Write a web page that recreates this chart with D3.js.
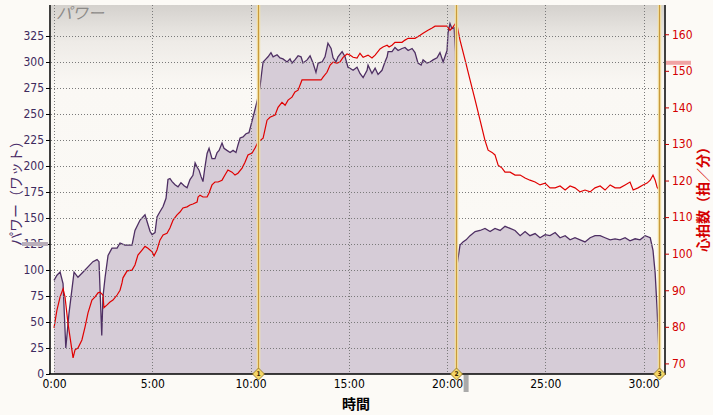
<!DOCTYPE html>
<html><head><meta charset="utf-8">
<script src="https://cdn.jsdelivr.net/npm/d3@7"></script>
<style>
html,body{margin:0;padding:0;background:#fcfaf6;}
svg{display:block;}
text{font-family:"Liberation Sans Narrow","Arial Narrow","DejaVu Sans Condensed",sans-serif;}
</style></head>
<body>
<svg id="chart" width="713" height="415"></svg>
<script>
// ---- data (time in minutes) ----
const powerTime = [0,0.15,0.31,0.46,0.60,0.76,1.02,1.22,1.48,1.73,1.98,2.19,2.29,2.43,2.49,2.60,2.75,2.95,3.21,3.36,3.61,3.97,4.12,4.38,4.63,4.89,4.99,5.14,5.24,5.39,5.55,5.70,5.80,5.90,6.01,6.16,6.31,6.46,6.62,6.77,6.92,7.07,7.18,7.28,7.38,7.48,7.58,7.68,7.79,7.89,8.04,8.19,8.30,8.40,8.55,8.65,8.80,8.96,9.11,9.26,9.36,9.47,9.62,9.77,9.92,10.13,10.33,10.48,10.59,10.64,10.79,10.89,11.04,11.15,11.35,11.50,11.65,11.86,12.01,12.11,12.26,12.42,12.57,12.67,12.88,13.03,13.18,13.33,13.44,13.64,13.79,13.94,14.10,14.20,14.35,14.45,14.66,14.81,14.96,15.06,15.22,15.42,15.57,15.73,15.93,15.98,16.18,16.34,16.49,16.69,16.84,16.95,17.00,17.20,17.35,17.51,17.71,17.86,18.02,18.22,18.37,18.52,18.68,18.78,18.98,19.13,19.29,19.49,19.64,19.80,20.00,20.05,20.15,20.25,20.36,20.43,20.51,20.66,20.81,20.97,21.17,21.43,21.68,21.93,22.19,22.44,22.70,22.95,23.21,23.46,23.72,23.97,24.22,24.48,24.73,24.99,25.24,25.50,25.75,26.01,26.26,26.51,26.77,27.02,27.28,27.53,27.79,28.04,28.30,28.55,28.80,29.06,29.31,29.57,29.82,30.08,30.34,30.48,30.59,30.69,30.79];
const powerWatts = [90,95,98,87,25,58,98,93,98,103,108,110,108,37,74,93,114,121,121,126,124,124,138,148,153,137,134,136,151,156,161,169,187,188,185,182,180,184,181,179,187,191,203,199,196,190,185,199,212,217,207,207,213,215,222,217,215,213,215,213,220,227,228,231,232,247,262,276,293,300,303,305,309,305,307,304,303,300,303,299,302,306,305,299,302,306,299,290,299,300,305,318,313,304,300,305,310,305,295,294,292,295,289,285,292,297,289,294,288,292,300,305,310,310,314,311,313,314,311,313,309,299,297,302,299,300,302,304,309,300,311,328,337,332,333,310,105,124,127,129,133,137,138,140,137,140,138,142,140,138,133,137,133,135,131,134,133,136,131,133,129,131,129,127,131,133,133,131,129,130,129,131,128,130,129,133,131,119,97,62,16];

const hrTime = [0,0.15,0.31,0.46,0.56,0.71,0.97,1.07,1.22,1.42,1.58,1.73,1.93,2.09,2.24,2.34,2.49,2.54,2.70,2.85,3.00,3.21,3.36,3.46,3.51,3.72,3.97,4.12,4.27,4.48,4.63,4.78,4.99,5.09,5.24,5.39,5.55,5.75,5.90,6.06,6.26,6.41,6.56,6.77,6.92,7.07,7.28,7.33,7.43,7.58,7.79,7.89,8.04,8.19,8.35,8.55,8.70,8.85,9.06,9.21,9.36,9.57,9.72,9.87,10.08,10.23,10.38,10.64,10.84,10.99,11.25,11.40,11.60,11.76,11.91,12.11,12.26,12.42,12.62,13.59,13.69,13.89,14.05,14.20,14.40,14.55,14.71,14.91,15.06,15.22,15.42,15.57,15.73,15.98,16.18,16.34,16.59,16.74,16.95,17.05,17.20,17.35,17.71,17.86,18.02,18.37,18.63,18.78,19.03,19.24,19.39,20.00,20.15,20.31,20.41,20.51,20.66,20.92,21.17,21.43,21.68,21.93,22.09,22.29,22.44,22.60,22.80,22.95,23.21,23.46,23.72,23.97,24.22,24.48,24.73,24.99,25.24,25.50,25.75,26.01,26.26,26.51,26.77,27.02,27.28,27.53,27.79,28.04,28.30,28.55,28.80,29.06,29.31,29.47,29.72,29.97,30.18,30.34,30.48,30.59,30.69,30.79];
const hrBpm = [79.7,84.6,88.2,90.4,88.2,81,71.5,73.7,74.2,76.4,80,83.8,87.3,88.2,89.3,89.5,88.7,85.2,86,86.8,87.3,88.7,90,92,93.4,95.3,95.5,96.9,99.6,101,102,101.5,100.5,99.4,101,103.7,105.1,105.6,107,109.2,110.6,111.4,112.5,112.8,113.3,113.6,114.1,115.5,116,115.5,115.5,116.6,118.8,119.6,119.6,120.1,121.5,122.9,122.3,121.5,122,123.4,125,127,127.5,128.9,130.5,131.6,136.5,137.3,137.9,140,141.4,140.6,142,142.8,144.2,144.7,147.5,147.5,148.3,149.6,151.6,152.4,152.1,152.4,153.7,154.6,154.3,153.7,153.5,154.8,153.7,154.3,153.5,154.3,156,156.5,157,156.5,157,157.8,157.8,158.4,158.9,158.9,159.7,160.3,161.1,161.7,162.2,162.2,161.1,162,162.8,162.5,158.4,152.9,147.5,142,136.5,131,128.3,127.7,127,124.2,123.4,122.3,122.3,121.5,121.5,120.7,120.1,119.6,118.8,119.3,118,118,118.5,117.4,118.5,118,116.9,117.4,116.9,118,118.5,117.4,118.8,118,118,118.8,119.6,117.4,118,118.8,119.3,120.1,121.5,120.1,118.2,117.4];

const timeTickValues = [0,5,10,15,20,25,30];
const timeTickLabels = ["0:00","5:00","10:00","15:00","20:00","25:00","30:00"];
const powerTicks = [0,25,50,75,100,125,150,175,200,225,250,275,300,325];
const hrTicks = [70,80,90,100,110,120,130,140,150,160];
const lapTimes = [10.40,20.44,30.80];
const lapLabels = ["1","2","3"];
const avgPower = 125;
const avgHr = 152.2;
const cursorTime = 20.97;

const titlePlot = "パワー";
const titleLeft = "パワー（ワット）";
const titleRight = "心拍数（拍／分）";
const titleX = "時間";

// ---- layout ----
const L = 51, R = 664, T = 5, B = 374;
const svg = d3.select("#chart");

const x = d3.scaleLinear().domain([-0.153, 31.04]).range([L, R]);
const yP = d3.scaleLinear().domain([0, 354.8]).range([B, T]);
const yH = d3.scaleLinear().domain([67.1, 168]).range([B, T]);

const defs = svg.append("defs");
const grad = defs.append("linearGradient").attr("id","bg").attr("x1",0).attr("y1",0).attr("x2",0).attr("y2",1);
grad.append("stop").attr("offset","0%").attr("stop-color","#d4d1cd");
grad.append("stop").attr("offset","10%").attr("stop-color","#eeebe7");
grad.append("stop").attr("offset","22%").attr("stop-color","#faf8f4");
grad.append("stop").attr("offset","100%").attr("stop-color","#fcfaf6");
defs.append("clipPath").attr("id","clip").append("rect").attr("x",L).attr("y",T).attr("width",R-L).attr("height",B-T);

svg.append("rect").attr("x",L).attr("y",T).attr("width",R-L).attr("height",B-T).attr("fill","url(#bg)");

const plot = svg.append("g").attr("clip-path","url(#clip)");

// power area
const pData = powerTime.map((t,i)=>[t,powerWatts[i]]);
plot.append("path").datum(pData)
  .attr("d", d3.area().x(d=>x(d[0])).y0(yP(0)).y1(d=>yP(d[1])))
  .attr("fill","#d6ccd7");

// grid
const grid = svg.append("g").attr("stroke","#7a7a7a").attr("stroke-dasharray","1,2").attr("stroke-width",1);
powerTicks.filter(v=>v>0).forEach(v=>{
  grid.append("line").attr("x1",L).attr("x2",R).attr("y1",Math.round(yP(v))+0.5).attr("y2",Math.round(yP(v))+0.5);
});
timeTickValues.forEach(v=>{
  grid.append("line").attr("y1",T).attr("y2",B).attr("x1",Math.round(x(v))+0.5).attr("x2",Math.round(x(v))+0.5);
});

// power line
plot.append("path").datum(pData)
  .attr("d", d3.line().x(d=>x(d[0])).y(d=>yP(d[1])))
  .attr("fill","none").attr("stroke","#4e2f63").attr("stroke-width",1.3);

// hr line
const hData = hrTime.map((t,i)=>[t,hrBpm[i]]);
plot.append("path").datum(hData)
  .attr("d", d3.line().x(d=>x(d[0])).y(d=>yH(d[1])))
  .attr("fill","none").attr("stroke","#e00000").attr("stroke-width",1.2);

// lap lines
lapTimes.forEach(t=>{
  const xx = Math.round(x(t))+0.5;
  svg.append("line").attr("x1",xx).attr("x2",xx).attr("y1",T).attr("y2",B).attr("stroke","#f3e2a8").attr("stroke-width",3.5);
  svg.append("line").attr("x1",xx).attr("x2",xx).attr("y1",T).attr("y2",B).attr("stroke","#c89a3c").attr("stroke-width",1.2);
});

// plot title
svg.append("text").attr("x",56).attr("y",19).text(titlePlot)
  .attr("fill","#8c8a88").attr("font-size",16).attr("font-style","italic")
  .style("font-family","'Noto Sans CJK JP',sans-serif");

// axes
const axL = d3.axisLeft(yP).tickValues(powerTicks).tickSize(4).tickPadding(2);
const gL = svg.append("g").attr("transform",`translate(${L-1},0)`).call(axL);
gL.select(".domain").attr("stroke","#000").attr("stroke-width",1.5).attr("d",`M-0,${T}V${B}`);
gL.selectAll(".tick line").attr("stroke","#000");
gL.selectAll(".tick text").attr("fill","#3e2a5e").attr("font-size",12);

const axR = d3.axisRight(yH).tickValues(hrTicks).tickSize(4).tickPadding(3);
const gR = svg.append("g").attr("transform",`translate(${R+1},0)`).call(axR);
gR.select(".domain").attr("stroke","#000").attr("stroke-width",1.5).attr("d",`M0,${T}V${B}`);
gR.selectAll(".tick line").attr("stroke","#c00000");
gR.selectAll(".tick text").attr("fill","#d40000").attr("font-size",12);

const axB = d3.axisBottom(x).tickValues(timeTickValues).tickFormat((d,i)=>timeTickLabels[i]).tickSize(0).tickPadding(5);
const gB = svg.append("g").attr("transform",`translate(0,${B})`).call(axB);
gB.select(".domain").attr("stroke","#000").attr("stroke-width",1.5).attr("d",`M${L-2},0H${R+2}`);
gB.selectAll(".tick text").attr("fill","#000").attr("font-size",12);

// lap diamonds
lapTimes.forEach((t,i)=>{
  const g = svg.append("g").attr("transform",`translate(${Math.round(x(t))+0.5},${B})`);
  g.append("path").attr("d","M0,-6L6,0L0,6L-6,0Z").attr("fill","#f5d667").attr("stroke","#8a7020").attr("stroke-width",0.8);
  g.append("text").attr("y",2).attr("text-anchor","middle").attr("font-size",6.5).attr("font-weight","bold").attr("fill","#332200").text(lapLabels[i]);
});

// avg markers
svg.append("rect").attr("x",22).attr("y",yP(avgPower)-2).attr("width",26).attr("height",4).attr("fill","#b9aeba");
svg.append("rect").attr("x",666).attr("y",yH(avgHr)-2).attr("width",25).attr("height",4).attr("fill","#f0a4a4");
svg.append("rect").attr("x",x(cursorTime)-2.5).attr("y",B+1).attr("width",5).attr("height",17).attr("fill","#aaaaaa");

// axis titles
svg.append("text").attr("transform","translate(21,190) rotate(-90)").attr("text-anchor","middle")
  .attr("font-size",14).attr("fill","#4a2c68").text(titleLeft)
  .style("font-family","'Noto Sans CJK JP',sans-serif");
svg.append("text").attr("transform","translate(708,196) rotate(-90)").attr("text-anchor","middle")
  .attr("font-size",14).attr("font-weight","bold").attr("fill","#d40000").text(titleRight)
  .style("font-family","'Noto Sans CJK JP',sans-serif");
svg.append("text").attr("x",356).attr("y",409).attr("text-anchor","middle")
  .attr("font-size",14).attr("font-weight","bold").attr("fill","#000").text(titleX)
  .style("font-family","'Noto Sans CJK JP',sans-serif");
</script>
</body></html>
